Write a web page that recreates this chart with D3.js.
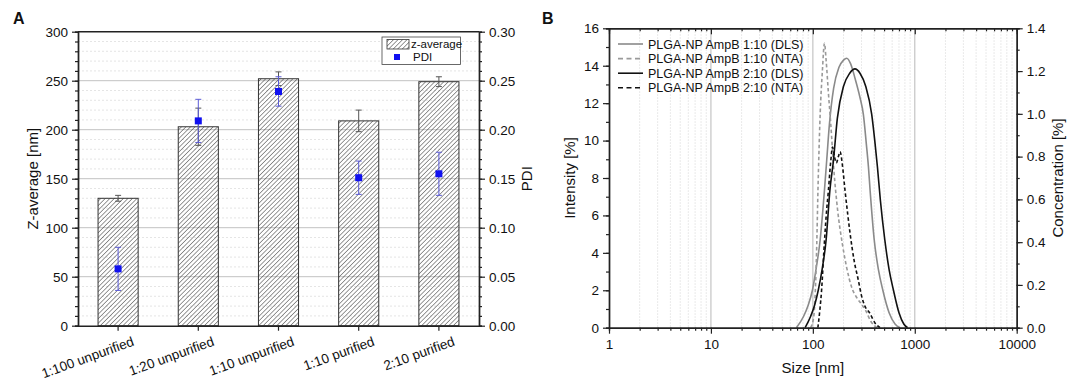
<!DOCTYPE html>
<html>
<head>
<meta charset="utf-8">
<script src="https://cdn.jsdelivr.net/npm/d3@7"></script>
<style>
body { margin: 0; background: #fff; }
svg text { font-family: "Liberation Sans", Arial, sans-serif; fill: #111; }
</style>
</head>
<body>
<svg id="chart" width="1084" height="385"></svg>
<script>
// ---- Panel A data ----
const sampleNames = ["1:100 unpurified", "1:20 unpurified", "1:10 unpurified", "1:10 purified", "2:10 purified"];
const zAverage = [130, 203, 252, 209, 249];
const zAverageErr = [3, 19, 7, 11, 5];
const pdiValues = [0.058, 0.209, 0.239, 0.151, 0.155];
const pdiErr = [0.022, 0.022, 0.015, 0.017, 0.022];
const zTicks = [0, 50, 100, 150, 200, 250, 300];
const pdiTicks = [0, 0.05, 0.10, 0.15, 0.20, 0.25, 0.30];

// ---- Panel B data ----
const sizeTicks = [1, 10, 100, 1000, 10000];
const intensityTicks = [0, 2, 4, 6, 8, 10, 12, 14, 16];
const concTicks = [0, 0.2, 0.4, 0.6, 0.8, 1.0, 1.2, 1.4];

// DLS, intensity [%]
const dls110Size = [69, 81, 90, 99, 108, 118, 125, 130, 137, 145, 160, 180, 200, 215, 235, 260, 290, 313, 335, 351, 365, 400, 440, 486, 560, 640, 717];
const dls110Int = [0, 0.6, 1.2, 2.0, 3.2, 4.7, 6.2, 7.35, 9.0, 10.8, 12.8, 13.9, 14.3, 14.4, 14.1, 13.3, 12.3, 11.4, 9.8, 8.6, 7.3, 4.7, 3.1, 2.0, 0.8, 0.2, 0];
const dls210Size = [84, 95, 104, 113, 124, 135, 147, 159, 174, 200, 230, 259, 290, 330, 378, 405, 430, 460, 508, 560, 618, 700, 780, 850];
const dls210Int = [0, 0.6, 1.2, 2.0, 3.2, 4.7, 7.35, 8.9, 11.2, 12.9, 13.6, 13.83, 13.6, 12.9, 11.4, 10.0, 8.6, 6.8, 4.7, 3.1, 2.0, 0.8, 0.2, 0];
// NTA, concentration [%]
const nta110Size = [95, 102, 108, 113, 118, 124, 130, 135, 142, 150, 160, 175, 195, 215, 240, 270, 300, 330, 370, 425];
const nta110Conc = [0, 0.05, 0.3, 0.7, 1.0, 1.2, 1.33, 1.25, 1.1, 0.95, 0.75, 0.55, 0.39, 0.28, 0.19, 0.14, 0.11, 0.08, 0.03, 0];
const nta210Size = [112, 117, 122, 128, 135, 142, 150, 156, 163, 170, 178, 185, 195, 207, 220, 232, 255, 280, 300, 325, 360, 410, 456];
const nta210Conc = [0, 0.08, 0.18, 0.35, 0.52, 0.64, 0.78, 0.845, 0.8, 0.77, 0.8, 0.823, 0.76, 0.64, 0.53, 0.44, 0.31, 0.22, 0.15, 0.1, 0.07, 0.02, 0];

const seriesB = [
    { name: "PLGA-NP AmpB 1:10 (DLS)", size: dls110Size, val: dls110Int, axis: "int", color: "#8a8a8a", dash: null },
    { name: "PLGA-NP AmpB 1:10 (NTA)", size: nta110Size, val: nta110Conc, axis: "conc", color: "#9a9a9a", dash: "3.5,2.5" },
    { name: "PLGA-NP AmpB 2:10 (DLS)", size: dls210Size, val: dls210Int, axis: "int", color: "#111", dash: null },
    { name: "PLGA-NP AmpB 2:10 (NTA)", size: nta210Size, val: nta210Conc, axis: "conc", color: "#111", dash: "3.5,2.5" }
];

const svg = d3.select("#chart");
const axisColor = "#222";

function styleAxis(g) {
    g.select(".domain").attr("stroke", axisColor).attr("stroke-width", 1.4);
    g.selectAll(".tick line").attr("stroke", axisColor).attr("stroke-width", 1.2);
    g.selectAll(".tick text").attr("font-size", 13.5).attr("fill", "#111")
        .style("font-family", '"Liberation Sans", Arial, sans-serif');
}

// Hatch pattern
const defs = svg.append("defs");
defs.append("pattern")
    .attr("id", "hatch")
    .attr("patternUnits", "userSpaceOnUse")
    .attr("width", 3.2).attr("height", 3.2)
    .attr("patternTransform", "rotate(45)")
    .append("line")
    .attr("x1", 0).attr("y1", 0).attr("x2", 0).attr("y2", 3.2)
    .attr("stroke", "#333").attr("stroke-width", 1);

// ================= Panel A =================
const A = { left: 78, right: 479, top: 31.7, bottom: 325.7 };

const xA = d3.scaleBand().domain(sampleNames).range([A.left, A.right])
    .paddingInner(0.5).paddingOuter(0.25);
const yZ = d3.scaleLinear().domain([0, 300]).range([A.bottom, A.top]);
const yP = d3.scaleLinear().domain([0, 0.3]).range([A.bottom, A.top]);

const gA = svg.append("g");

// grid
const minorZ = d3.range(10, 300, 10).filter(v => v % 50 !== 0);
gA.selectAll(".minor-grid").data(minorZ).join("line")
    .attr("x1", A.left).attr("x2", A.right)
    .attr("y1", d => yZ(d)).attr("y2", d => yZ(d))
    .attr("stroke", "#dedede").attr("stroke-width", 0.8).attr("stroke-dasharray", "2,2");
gA.selectAll(".major-grid").data(zTicks.slice(1, -1)).join("line")
    .attr("x1", A.left).attr("x2", A.right)
    .attr("y1", d => yZ(d)).attr("y2", d => yZ(d))
    .attr("stroke", "#c2c2c2").attr("stroke-width", 1);

// bars
gA.selectAll(".bar").data(sampleNames).join("rect")
    .attr("x", d => xA(d))
    .attr("width", xA.bandwidth())
    .attr("y", (d, i) => yZ(zAverage[i]))
    .attr("height", (d, i) => yZ(0) - yZ(zAverage[i]))
    .attr("fill", "url(#hatch)")
    .attr("stroke", "#333").attr("stroke-width", 1);

// z-average error bars
const cap = 3;
sampleNames.forEach((d, i) => {
    const cx = xA(d) + xA.bandwidth() / 2;
    gA.append("line")
        .attr("x1", cx).attr("x2", cx)
        .attr("y1", yZ(zAverage[i] - zAverageErr[i])).attr("y2", yZ(zAverage[i] + zAverageErr[i]))
        .attr("stroke", "#555").attr("stroke-width", 1);
    [zAverage[i] - zAverageErr[i], zAverage[i] + zAverageErr[i]].forEach(v => {
        gA.append("line")
            .attr("x1", cx - cap).attr("x2", cx + cap)
            .attr("y1", yZ(v)).attr("y2", yZ(v))
            .attr("stroke", "#555").attr("stroke-width", 1);
    });
});

// PDI error bars + markers
sampleNames.forEach((d, i) => {
    const cx = xA(d) + xA.bandwidth() / 2;
    gA.append("line")
        .attr("x1", cx).attr("x2", cx)
        .attr("y1", yP(pdiValues[i] - pdiErr[i])).attr("y2", yP(pdiValues[i] + pdiErr[i]))
        .attr("stroke", "#5b5bd6").attr("stroke-width", 1);
    [pdiValues[i] - pdiErr[i], pdiValues[i] + pdiErr[i]].forEach(v => {
        gA.append("line")
            .attr("x1", cx - cap).attr("x2", cx + cap)
            .attr("y1", yP(v)).attr("y2", yP(v))
            .attr("stroke", "#5b5bd6").attr("stroke-width", 1);
    });
    gA.append("rect")
        .attr("x", cx - 3.5).attr("y", yP(pdiValues[i]) - 3.5)
        .attr("width", 7).attr("height", 7)
        .attr("fill", "#1010f0");
});

// top border
gA.append("line").attr("x1", A.left).attr("x2", A.right).attr("y1", A.top).attr("y2", A.top)
    .attr("stroke", axisColor).attr("stroke-width", 1.4);

// axes
gA.append("g").attr("transform", `translate(${A.left},0)`)
    .call(d3.axisLeft(yZ).tickValues(d3.range(0, 301, 10)).tickSize(3).tickFormat(""))
    .call(styleAxis);
gA.append("g").attr("transform", `translate(${A.left},0)`)
    .call(d3.axisLeft(yZ).tickValues(zTicks).tickSize(6).tickSizeOuter(0).tickPadding(4))
    .call(styleAxis);
gA.append("g").attr("transform", `translate(${A.right},0)`)
    .call(d3.axisRight(yP).tickValues(d3.range(0, 0.301, 0.01)).tickSize(3).tickFormat(""))
    .call(styleAxis);
gA.append("g").attr("transform", `translate(${A.right},0)`)
    .call(d3.axisRight(yP).tickValues(pdiTicks).tickFormat(d3.format(".2f")).tickSize(6).tickSizeOuter(0).tickPadding(4))
    .call(styleAxis);
const xAxisA = gA.append("g").attr("transform", `translate(0,${A.bottom})`)
    .call(d3.axisBottom(xA).tickSize(5).tickSizeOuter(0))
    .call(styleAxis);
xAxisA.selectAll(".tick text")
    .style("text-anchor", "end")
    .attr("x", 9)
    .attr("y", 24)
    .attr("dy", 0)
    .attr("transform", "rotate(-20)");

// axis titles
gA.append("text")
    .attr("transform", `translate(38,${(A.top + A.bottom) / 2}) rotate(-90)`)
    .attr("text-anchor", "middle").attr("font-size", 15)
    .text("Z-average [nm]");
gA.append("text")
    .attr("transform", `translate(532,${(A.top + A.bottom) / 2}) rotate(-90)`)
    .attr("text-anchor", "middle").attr("font-size", 15)
    .text("PDI");
gA.append("text").attr("x", 13).attr("y", 24).attr("font-size", 16).attr("font-weight", "bold").text("A");

// legend A
const legA = gA.append("g").attr("transform", "translate(382,37)");
legA.append("rect").attr("width", 78.5).attr("height", 27.5)
    .attr("fill", "#fff").attr("stroke", "#444").attr("stroke-width", 0.8);
legA.append("rect").attr("x", 5).attr("y", 2.5).attr("width", 22).attr("height", 9.5)
    .attr("fill", "url(#hatch)").attr("stroke", "#333").attr("stroke-width", 0.8);
legA.append("text").attr("x", 29).attr("y", 11).attr("font-size", 11.5).text("z-average");
legA.append("rect").attr("x", 12).attr("y", 17).attr("width", 6).attr("height", 6).attr("fill", "#1010f0");
legA.append("text").attr("x", 31).attr("y", 24).attr("font-size", 11.5).text("PDI");

// ================= Panel B =================
const B = { left: 609, right: 1016.7, top: 28.3, bottom: 327.7 };
const xB = d3.scaleLog().domain([1, 10000]).range([B.left, B.right]);
const yI = d3.scaleLinear().domain([0, 16]).range([B.bottom, B.top]);
const yC = d3.scaleLinear().domain([0, 1.4]).range([B.bottom, B.top]);

const gB = svg.append("g");

const minorSizes = [];
[1, 10, 100, 1000].forEach(dec => d3.range(2, 10).forEach(m => minorSizes.push(dec * m)));

gB.selectAll(".minor-v").data(minorSizes).join("line")
    .attr("x1", d => xB(d)).attr("x2", d => xB(d))
    .attr("y1", B.top).attr("y2", B.bottom)
    .attr("stroke", "#dcdcdc").attr("stroke-width", 0.8).attr("stroke-dasharray", "1.5,1.5");
gB.selectAll(".major-v").data(sizeTicks.slice(1, -1)).join("line")
    .attr("x1", d => xB(d)).attr("x2", d => xB(d))
    .attr("y1", B.top).attr("y2", B.bottom)
    .attr("stroke", "#c4c4c4").attr("stroke-width", 1.2);

// curves
seriesB.forEach(s => {
    const yS = s.axis === "int" ? yI : yC;
    const pts = s.size.map((v, i) => [v, s.val[i]]);
    gB.append("path")
        .datum(pts)
        .attr("fill", "none")
        .attr("stroke", s.color)
        .attr("stroke-width", 1.6)
        .attr("stroke-dasharray", s.dash)
        .attr("d", d3.line().x(d => xB(d[0])).y(d => yS(d[1])).curve(d3.curveMonotoneX));
});

// axes B
gB.append("g").attr("transform", `translate(0,${B.bottom})`)
    .call(d3.axisBottom(xB).tickValues(minorSizes).tickSize(3).tickFormat(""))
    .call(styleAxis);
gB.append("g").attr("transform", `translate(0,${B.bottom})`)
    .call(d3.axisBottom(xB).tickValues(sizeTicks).tickFormat(d3.format("d")).tickSize(6).tickSizeOuter(0).tickPadding(6))
    .call(styleAxis);
gB.append("g").attr("transform", `translate(0,${B.top})`)
    .call(d3.axisTop(xB).tickValues(minorSizes).tickSize(-3).tickFormat(""))
    .call(styleAxis);
gB.append("g").attr("transform", `translate(0,${B.top})`)
    .call(d3.axisTop(xB).tickValues(sizeTicks).tickSize(-6).tickSizeOuter(0).tickFormat(""))
    .call(styleAxis);
gB.append("g").attr("transform", `translate(${B.left},0)`)
    .call(d3.axisLeft(yI).tickValues(d3.range(0, 17, 1)).tickSize(3).tickFormat(""))
    .call(styleAxis);
gB.append("g").attr("transform", `translate(${B.left},0)`)
    .call(d3.axisLeft(yI).tickValues(intensityTicks).tickSize(6).tickSizeOuter(0).tickPadding(4))
    .call(styleAxis);
gB.append("g").attr("transform", `translate(${B.right},0)`)
    .call(d3.axisRight(yC).tickValues(d3.range(0, 1.41, 0.1)).tickSize(3).tickFormat(""))
    .call(styleAxis);
gB.append("g").attr("transform", `translate(${B.right},0)`)
    .call(d3.axisRight(yC).tickValues(concTicks).tickFormat(d3.format(".1f")).tickSize(6).tickSizeOuter(0).tickPadding(4))
    .call(styleAxis);

// titles
gB.append("text")
    .attr("transform", `translate(575,${(B.top + B.bottom) / 2}) rotate(-90)`)
    .attr("text-anchor", "middle").attr("font-size", 15)
    .text("Intensity [%]");
gB.append("text")
    .attr("transform", `translate(1063,${(B.top + B.bottom) / 2}) rotate(-90)`)
    .attr("text-anchor", "middle").attr("font-size", 15)
    .text("Concentration [%]");
gB.append("text")
    .attr("x", (B.left + B.right) / 2).attr("y", 373)
    .attr("text-anchor", "middle").attr("font-size", 15)
    .text("Size [nm]");
gB.append("text").attr("x", 542).attr("y", 24).attr("font-size", 16).attr("font-weight", "bold").text("B");

// legend B
const legB = gB.append("g").attr("transform", "translate(618,44)");
seriesB.forEach((s, i) => {
    const yy = i * 14.6;
    legB.append("line").attr("x1", 0).attr("x2", 25).attr("y1", yy).attr("y2", yy)
        .attr("stroke", s.color).attr("stroke-width", 1.6).attr("stroke-dasharray", s.dash ? "5,3.5" : null);
    legB.append("text").attr("x", 30).attr("y", yy + 4.5).attr("font-size", 12.5).text(s.name);
});
</script>
</body>
</html>
